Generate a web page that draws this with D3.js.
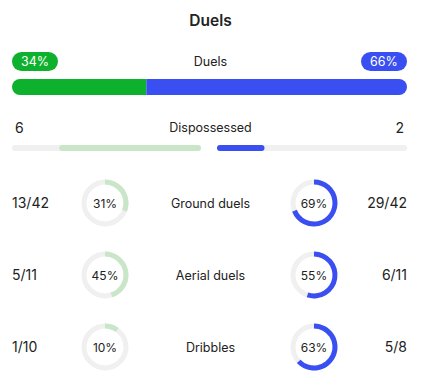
<!DOCTYPE html>
<html><head><meta charset="utf-8">
<script src="https://cdn.jsdelivr.net/npm/d3@7/dist/d3.min.js"></script>
<style>body{margin:0;background:#fff;font-family:Inter,"Noto Sans",sans-serif;}</style>
</head><body><svg id="c" width="421" height="390"></svg>
<script>
const title = "Duels";
const mainLabel = "Duels";
const mainShares = [34, 66];
const dispLabel = "Dispossessed";
const dispValues = [6, 2];
const rowLabels = ["Ground duels", "Aerial duels", "Dribbles"];
const homeText = ["13/42", "5/11", "1/10"];
const homePct = [31, 45, 10];
const awayText = ["29/42", "6/11", "5/8"];
const awayPct = [69, 55, 63];

const GREEN = "#0db12d", BLUE = "#3a4ff2", LGREEN = "#c9e6c9", TRACK = "#f0f0f0", TXT = "#222";
const svg = d3.select("#c");
const W = 421, L = 12, R = 407;

svg.append("text").attr("x", W/2).attr("y", 26).attr("text-anchor","middle")
  .attr("font-size", 15.5).attr("font-weight", 600).attr("fill", TXT).text(title);

// pills
const pillH = 19, pillW = 46, pillY = 52;
[[L, mainShares[0], GREEN],[R - pillW, mainShares[1], BLUE]].forEach(([x,v,c])=>{
  svg.append("rect").attr("x",x).attr("y",pillY).attr("width",pillW).attr("height",pillH)
    .attr("rx",pillH/2).attr("fill",c);
  svg.append("text").attr("x",x+pillW/2).attr("y",pillY+pillH/2+4.5).attr("text-anchor","middle")
    .attr("font-size",12.5).attr("fill","#fff").text(v+"%");
});
svg.append("text").attr("x",W/2).attr("y",66).attr("text-anchor","middle")
  .attr("font-size",12.5).attr("fill",TXT).text(mainLabel);

// main bar
const x = d3.scaleLinear().domain([0, d3.sum(mainShares)]).range([L, R]);
const barY = 79, barH = 16;
svg.append("defs").append("clipPath").attr("id","mb").append("rect")
  .attr("x",L).attr("y",barY).attr("width",R-L).attr("height",barH).attr("rx",barH/2);
const mg = svg.append("g").attr("clip-path","url(#mb)");
mg.append("rect").attr("x",x(0)).attr("y",barY).attr("width",x(mainShares[0])-x(0)).attr("height",barH).attr("fill",GREEN);
mg.append("rect").attr("x",x(mainShares[0])).attr("y",barY).attr("width",x(d3.sum(mainShares))-x(mainShares[0])).attr("height",barH).attr("fill",BLUE);

// dispossessed
svg.append("text").attr("x",L+3).attr("y",133).attr("font-size",14).attr("fill",TXT).text(dispValues[0]);
svg.append("text").attr("x",R-3).attr("y",133).attr("text-anchor","end").attr("font-size",14).attr("fill",TXT).text(dispValues[1]);
svg.append("text").attr("x",W/2).attr("y",132).attr("text-anchor","middle").attr("font-size",12.5).attr("fill",TXT).text(dispLabel);
const tot = d3.sum(dispValues);
const dY = 145, dH = 6;
const xl = d3.scaleLinear().domain([0, tot]).range([201, L]);
const xr = d3.scaleLinear().domain([0, tot]).range([217, R]);
svg.append("rect").attr("x",L).attr("y",dY).attr("width",201-L).attr("height",dH).attr("rx",3).attr("fill",TRACK);
svg.append("rect").attr("x",xl(dispValues[0])).attr("y",dY).attr("width",201-xl(dispValues[0])).attr("height",dH).attr("rx",3).attr("fill",LGREEN);
svg.append("rect").attr("x",217).attr("y",dY).attr("width",R-217).attr("height",dH).attr("rx",3).attr("fill",TRACK);
svg.append("rect").attr("x",217).attr("y",dY).attr("width",xr(dispValues[1])-217).attr("height",dH).attr("rx",3).attr("fill",BLUE);

// donut rows
const rowY = d3.scalePoint().domain(rowLabels).range([203, 347]);
const ang = d3.scaleLinear().domain([0,100]).range([0, 2*Math.PI]);
const arc = d3.arc().innerRadius(18.5).outerRadius(23.5);
function donut(cx, cy, pct, color){
  const g = svg.append("g").attr("transform",`translate(${cx},${cy})`);
  g.append("path").attr("d", arc({startAngle:0,endAngle:2*Math.PI})).attr("fill",TRACK);
  g.append("path").attr("d", arc({startAngle:0,endAngle:ang(pct)})).attr("fill",color);
  g.append("text").attr("y",4.5).attr("text-anchor","middle").attr("font-size",12).attr("fill",TXT).text(pct+"%");
}
rowLabels.forEach((lab,i)=>{
  const cy = rowY(lab);
  svg.append("text").attr("x",L).attr("y",cy+5).attr("font-size",14).attr("fill",TXT).text(homeText[i]);
  svg.append("text").attr("x",R).attr("y",cy+5).attr("text-anchor","end").attr("font-size",14).attr("fill",TXT).text(awayText[i]);
  svg.append("text").attr("x",W/2).attr("y",cy+4.5).attr("text-anchor","middle").attr("font-size",12.5).attr("fill",TXT).text(lab);
  donut(105, cy, homePct[i], LGREEN);
  donut(314, cy, awayPct[i], BLUE);
});
</script></body></html>
